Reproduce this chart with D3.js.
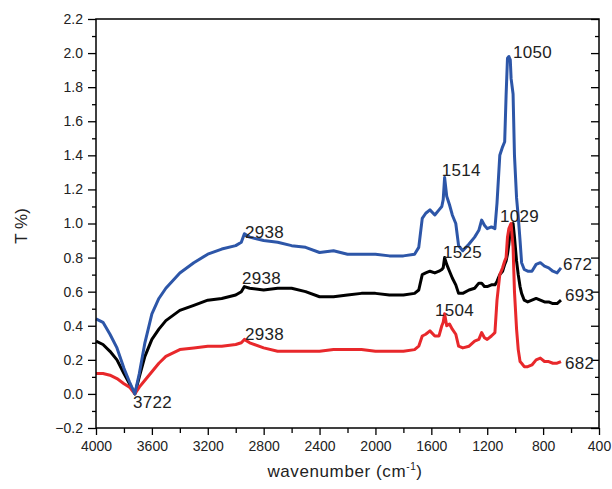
<!DOCTYPE html>
<html>
<head>
<meta charset="utf-8">
<script src="https://cdn.jsdelivr.net/npm/d3@7"></script>
<style>
  html, body { margin: 0; padding: 0; background: #fff; }
  svg { display: block; font-family: "Liberation Sans", Arial, sans-serif; }
  .tick text { fill: #222; }
</style>
</head>
<body>
<script>
// wavenumber grid (cm-1) shared by the three spectra
var wavenumber = [4000, 3950, 3900, 3850, 3800, 3760, 3722, 3690, 3650, 3600,
  3550, 3500, 3400, 3300, 3200, 3100, 3000, 2960, 2938, 2900,
  2800, 2700, 2600, 2500, 2400, 2300, 2200, 2100, 2000, 1900,
  1800, 1720, 1690, 1665, 1640, 1610, 1575, 1545, 1525, 1515,
  1505, 1490, 1470, 1450, 1425, 1405, 1375, 1330, 1290, 1260,
  1240, 1220, 1200, 1170, 1145, 1130, 1110, 1090, 1075, 1065,
  1055, 1045, 1035, 1029, 1015, 1005, 990, 978, 965, 954,
  935, 910, 880, 850, 820, 790, 760, 730, 700, 672];

var blueT = [0.44, 0.42, 0.35, 0.27, 0.15, 0.07, 0.00, 0.12, 0.30, 0.47,
  0.56, 0.62, 0.71, 0.77, 0.82, 0.85, 0.87, 0.89, 0.94, 0.92,
  0.90, 0.89, 0.87, 0.86, 0.83, 0.84, 0.82, 0.82, 0.82, 0.81,
  0.81, 0.82, 0.86, 1.03, 1.06, 1.08, 1.05, 1.08, 1.10, 1.14,
  1.27, 1.16, 1.11, 1.05, 1.00, 0.87, 0.84, 0.88, 0.92, 0.96,
  1.02, 0.99, 0.97, 0.98, 0.97, 1.12, 1.40, 1.45, 1.48, 1.75,
  1.97, 1.98, 1.96, 1.85, 1.76, 1.40, 1.15, 1.04, 0.90, 0.77,
  0.73, 0.72, 0.72, 0.76, 0.77, 0.75, 0.74, 0.72, 0.71, 0.74];

var blackT = [0.31, 0.29, 0.25, 0.20, 0.12, 0.06, 0.00, 0.10, 0.22, 0.32,
  0.38, 0.43, 0.49, 0.52, 0.55, 0.56, 0.58, 0.60, 0.63, 0.62,
  0.61, 0.62, 0.62, 0.60, 0.57, 0.57, 0.58, 0.59, 0.59, 0.58,
  0.58, 0.59, 0.61, 0.70, 0.71, 0.72, 0.71, 0.72, 0.73, 0.74,
  0.80, 0.76, 0.72, 0.68, 0.64, 0.59, 0.59, 0.61, 0.62, 0.65,
  0.65, 0.63, 0.63, 0.64, 0.64, 0.66, 0.70, 0.72, 0.76, 0.78,
  0.82, 0.88, 0.96, 0.99, 1.00, 0.92, 0.78, 0.70, 0.63, 0.59,
  0.55, 0.54, 0.55, 0.56, 0.55, 0.54, 0.54, 0.53, 0.53, 0.55];

var redT = [0.12, 0.12, 0.11, 0.09, 0.06, 0.04, 0.00, 0.04, 0.08, 0.13,
  0.18, 0.22, 0.26, 0.27, 0.28, 0.28, 0.29, 0.30, 0.32, 0.30,
  0.27, 0.25, 0.25, 0.25, 0.25, 0.26, 0.26, 0.26, 0.25, 0.25,
  0.25, 0.26, 0.28, 0.34, 0.35, 0.37, 0.34, 0.34, 0.40, 0.42,
  0.47, 0.40, 0.41, 0.38, 0.35, 0.28, 0.27, 0.28, 0.31, 0.32,
  0.36, 0.33, 0.32, 0.34, 0.36, 0.55, 0.70, 0.74, 0.78, 0.80,
  0.92, 0.97, 0.99, 1.00, 0.86, 0.60, 0.38, 0.26, 0.19, 0.18,
  0.16, 0.16, 0.17, 0.20, 0.21, 0.19, 0.19, 0.18, 0.18, 0.19];

// peak labels, placed by the left/baseline of the text in data units
var labelText = ["2938", "2938", "2938", "3722", "1514", "1050", "1029", "1525", "1504", "672", "693", "682"];
var labelWn   = [2934, 2955, 2934, 3735, 1526, 1015, 1108, 1516, 1574, 658, 643, 643];
var labelT    = [0.915, 0.645, 0.317, -0.08, 1.279, 1.97, 1.006, 0.80, 0.457, 0.73, 0.548, 0.144];

var xMajor = d3.range(4000, 399, -400);
var xMinor = d3.range(3800, 400, -400);
var yMajor = d3.range(-0.2, 2.21, 0.2);
var yMinor = d3.range(-0.1, 2.2, 0.2);

var width = 612;
var height = 489;

var x = d3.scaleLinear().domain([4000, 400]).range([96, 599]);
var y = d3.scaleLinear().domain([-0.2, 2.2]).range([428, 19]);

var svg = d3.select("body").append("svg")
            .attr("width", width)
            .attr("height", height);

// spectra (black under red under blue)
var series = [
  {vals: blackT, color: "#000000"},
  {vals: redT, color: "#e8282b"},
  {vals: blueT, color: "#2d56a8"}
];

var line = d3.line()
             .x(function(d){ return x(d[0]); })
             .y(function(d){ return y(d[1]); });

series.forEach(function(s){
  var pts = wavenumber.map(function(w, i){ return [w, s.vals[i]]; });
  svg.append("path")
     .datum(pts)
     .attr("fill", "none")
     .attr("stroke", s.color)
     .attr("stroke-width", 3)
     .attr("stroke-linejoin", "round")
     .attr("d", line);
});

// axes
function style(g){
  g.select(".domain").remove();
  g.selectAll("line").attr("stroke", "#000").attr("stroke-width", 1.3);
}

svg.append("g")
   .attr("transform", "translate(96,0)")
   .call(d3.axisLeft(y).tickValues(yMajor).tickSize(8).tickPadding(5)
           .tickFormat(function(d){ return d3.format(".1f")(Math.abs(d) < 1e-9 ? 0 : d); }))
   .call(style)
   .selectAll("text").attr("font-size", 14).attr("font-family", "Liberation Sans, Arial, sans-serif");

svg.append("g")
   .attr("transform", "translate(96,0)")
   .call(d3.axisLeft(y).tickValues(yMinor).tickSize(4).tickFormat(""))
   .call(style);

svg.append("g")
   .attr("transform", "translate(599,0)")
   .call(d3.axisLeft(y).tickValues(yMajor).tickSize(8).tickFormat(""))
   .call(style);

svg.append("g")
   .attr("transform", "translate(599,0)")
   .call(d3.axisLeft(y).tickValues(yMinor).tickSize(4).tickFormat(""))
   .call(style);

svg.append("g")
   .attr("transform", "translate(0,428)")
   .call(d3.axisBottom(x).tickValues(xMajor).tickSize(7).tickPadding(6).tickFormat(d3.format("d")))
   .call(style)
   .selectAll("text").attr("font-size", 14).attr("font-family", "Liberation Sans, Arial, sans-serif");

svg.append("g")
   .attr("transform", "translate(0,428)")
   .call(d3.axisBottom(x).tickValues(xMinor).tickSize(5).tickFormat(""))
   .call(style);

// frame
svg.append("rect")
   .attr("x", 96).attr("y", 19)
   .attr("width", 503).attr("height", 409)
   .attr("fill", "none")
   .attr("stroke", "#000")
   .attr("stroke-width", 1.5);

// peak labels
svg.selectAll(".peak")
   .data(labelText)
   .enter().append("text")
   .attr("class", "peak")
   .attr("x", function(d, i){ return x(labelWn[i]); })
   .attr("y", function(d, i){ return y(labelT[i]); })
   .attr("font-size", 17)
   .attr("letter-spacing", 0.3)
   .attr("fill", "#222")
   .text(function(d){ return d; });

// axis titles
var xt = svg.append("text")
            .attr("x", 345).attr("y", 477)
            .attr("text-anchor", "middle")
            .attr("font-size", 17)
            .attr("letter-spacing", 0.6)
            .attr("fill", "#222");
xt.append("tspan").text("wavenumber (cm");
xt.append("tspan").attr("font-size", 10).attr("dy", -7).text("-1");
xt.append("tspan").attr("dy", 7).text(")");

svg.append("text")
   .attr("transform", "translate(27,226) rotate(-90)")
   .attr("text-anchor", "middle")
   .attr("font-size", 17)
   .attr("fill", "#222")
   .text("T %)");
</script>
</body>
</html>
